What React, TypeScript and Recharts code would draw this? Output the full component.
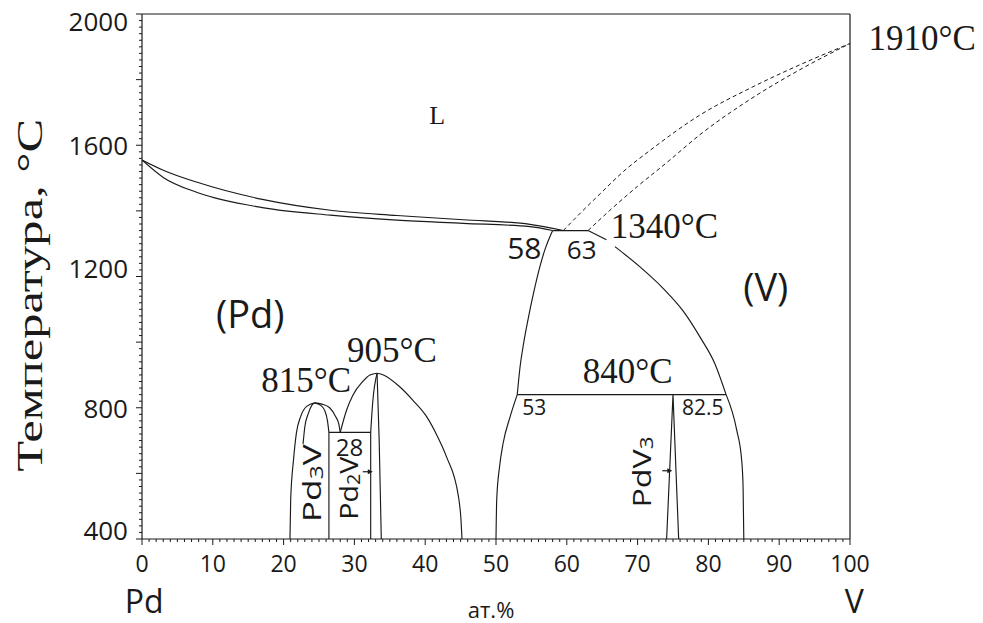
import React from 'react';
import { LineChart, Line, XAxis, YAxis, ReferenceDot } from 'recharts';

type Pt = { x: number; t: number };

// Invariant points of the Pd–V system (x in at.% V, t in °C)
const PD_MELT = 1555;
const V_MELT = 1910;
const PERITECTIC_T = 1340;
const PERITECTIC_LIQ = 59.5;
const PERITECTIC_PD = 58;
const PERITECTIC_V = 63;
const EUTECTOID_T = 840;
const EUTECTOID_PD = 53;
const EUTECTOID_V = 82.5;
const PDV3_X = 75;
const PD3V_MAX_X = 24.4;
const PD3V_MAX_T = 815;
const PD2V_MAX_X = 33.2;
const PD2V_MAX_T = 905;
const LOW_EUTECTOID_T = 725;
const LOW_EUTECTOID_X = 28;
const PD3V_EDGE = 26.4;
const PD2V_EDGE = 32.3;

// Liquidus / solidus of (Pd)
const liquidusPd: Pt[] = [
  { x: 0, t: PD_MELT }, { x: 3, t: 1524 }, { x: 7.8, t: 1487 }, { x: 17, t: 1435 },
  { x: 26.6, t: 1402 }, { x: 36, t: 1386 }, { x: 45.4, t: 1373 }, { x: 54.8, t: 1359 },
  { x: PERITECTIC_LIQ, t: PERITECTIC_T },
];
const solidusPd: Pt[] = [
  { x: 0, t: PD_MELT }, { x: 3, t: 1502 }, { x: 7.8, t: 1456 }, { x: 17, t: 1410 },
  { x: 26.6, t: 1387 }, { x: 36, t: 1372 }, { x: 45.4, t: 1362 }, { x: 54.8, t: 1352 },
  { x: PERITECTIC_PD, t: PERITECTIC_T },
];
const peritecticLine: Pt[] = [
  { x: PERITECTIC_PD, t: PERITECTIC_T }, { x: PERITECTIC_V, t: PERITECTIC_T },
];

// Estimated (dashed) liquidus / solidus of (V)
const liquidusV: Pt[] = [
  { x: PERITECTIC_LIQ, t: PERITECTIC_T }, { x: 62, t: 1395 }, { x: 64.7, t: 1452 },
  { x: 68, t: 1520 }, { x: 71.8, t: 1585 }, { x: 78.8, t: 1692 }, { x: 85.9, t: 1774 },
  { x: 92.9, t: 1845 }, { x: 100, t: V_MELT },
];
const solidusV: Pt[] = [
  { x: PERITECTIC_V, t: PERITECTIC_T }, { x: 66, t: 1400 }, { x: 70, t: 1475 },
  { x: 74, t: 1545 }, { x: 78.8, t: 1632 }, { x: 85.9, t: 1740 }, { x: 92.9, t: 1830 },
  { x: 100, t: V_MELT },
];

// (V) solvus
const solvusVTop: Pt[] = [{ x: PERITECTIC_V, t: PERITECTIC_T }, { x: 65.6, t: 1312 }];
const solvusVMid: Pt[] = [
  { x: 66.8, t: 1291 }, { x: 70.3, t: 1230 }, { x: 73.6, t: 1164 }, { x: 76.5, t: 1093 },
  { x: 78.8, t: 1016 }, { x: 80.9, t: 935 }, { x: EUTECTOID_V, t: EUTECTOID_T },
];
const solvusVLow: Pt[] = [
  { x: EUTECTOID_V, t: EUTECTOID_T }, { x: 84.0, t: 732 }, { x: 84.7, t: 640 },
  { x: 84.9, t: 558 }, { x: 85.0, t: 400 },
];

// (Pd) solvus on the V-rich side
const solvusPdHigh: Pt[] = [
  { x: EUTECTOID_PD, t: EUTECTOID_T }, { x: 53.4, t: 925 }, { x: 53.9, t: 996 },
  { x: 54.6, t: 1077 }, { x: 55.3, t: 1149 }, { x: 56.2, t: 1230 }, { x: 56.9, t: 1281 },
  { x: PERITECTIC_PD, t: PERITECTIC_T },
];
const solvusPdLow: Pt[] = [
  { x: 50, t: 400 }, { x: 50.1, t: 519 }, { x: 50.5, t: 620 }, { x: 51, t: 691 },
  { x: 52, t: 773 }, { x: EUTECTOID_PD, t: EUTECTOID_T },
];
const eutectoidLine: Pt[] = [
  { x: EUTECTOID_PD, t: EUTECTOID_T }, { x: EUTECTOID_V, t: EUTECTOID_T },
];
const pdv3Field: Pt[] = [
  { x: 74.1, t: 400 }, { x: PDV3_X, t: EUTECTOID_T }, { x: 75.8, t: 400 },
];

// Pd3V ordering dome
const pd3vOuterLeft: Pt[] = [
  { x: 20.9, t: 400 }, { x: 21.0, t: 519 }, { x: 21.4, t: 641 }, { x: 21.8, t: 722 },
  { x: 22.4, t: 773 }, { x: 23.3, t: 805 }, { x: PD3V_MAX_X, t: PD3V_MAX_T },
];
const pd3vOuterRight: Pt[] = [
  { x: PD3V_MAX_X, t: PD3V_MAX_T }, { x: 25.4, t: 811 }, { x: 26.5, t: 800 },
  { x: 27.3, t: 775 }, { x: 27.8, t: 750 }, { x: LOW_EUTECTOID_X, t: LOW_EUTECTOID_T },
];
const pd3vInnerLeft: Pt[] = [
  { x: 22.75, t: 690 }, { x: 23.0, t: 742 }, { x: 23.5, t: 783 }, { x: 24.0, t: 808 },
  { x: PD3V_MAX_X, t: PD3V_MAX_T },
];
const pd3vInnerRight: Pt[] = [
  { x: PD3V_MAX_X, t: PD3V_MAX_T }, { x: 25.2, t: 808 }, { x: 25.8, t: 792 },
  { x: 26.2, t: 760 }, { x: PD3V_EDGE, t: LOW_EUTECTOID_T },
];
const pd3vEdge: Pt[] = [{ x: PD3V_EDGE, t: 400 }, { x: PD3V_EDGE, t: LOW_EUTECTOID_T }];
const lowEutectoidLine: Pt[] = [
  { x: PD3V_EDGE, t: LOW_EUTECTOID_T }, { x: PD2V_EDGE, t: LOW_EUTECTOID_T },
];

// Pd2V ordering dome
const pd2vLeft: Pt[] = [
  { x: LOW_EUTECTOID_X, t: LOW_EUTECTOID_T }, { x: 28.9, t: 793 }, { x: 29.8, t: 839 },
  { x: 31.1, t: 878 }, { x: 32.2, t: 900 }, { x: PD2V_MAX_X, t: PD2V_MAX_T },
];
const pd2vInner: Pt[] = [
  { x: PD2V_EDGE, t: LOW_EUTECTOID_T }, { x: 32.6, t: 820 }, { x: PD2V_MAX_X, t: PD2V_MAX_T },
];
const pd2vEdge: Pt[] = [{ x: PD2V_EDGE, t: 400 }, { x: PD2V_EDGE, t: LOW_EUTECTOID_T }];
const pd2vRightEdge: Pt[] = [
  { x: PD2V_MAX_X, t: PD2V_MAX_T }, { x: 33.5, t: 700 }, { x: 33.8, t: 400 },
];
const pd2vOuterRight: Pt[] = [
  { x: PD2V_MAX_X, t: PD2V_MAX_T }, { x: 34.1, t: 900 }, { x: 36.4, t: 864 },
  { x: 38.3, t: 822 }, { x: 40.2, t: 773 }, { x: 41.7, t: 714 }, { x: 43, t: 651 },
  { x: 44.7, t: 529 }, { x: 45.05, t: 460 }, { x: 45.2, t: 400 },
];

type Curve = { pts: Pt[]; kind: 'monotone' | 'linear'; dashed?: boolean };
const curves: Curve[] = [
  { pts: liquidusPd, kind: 'monotone' },
  { pts: solidusPd, kind: 'monotone' },
  { pts: peritecticLine, kind: 'linear' },
  { pts: liquidusV, kind: 'monotone', dashed: true },
  { pts: solidusV, kind: 'monotone', dashed: true },
  { pts: solvusVTop, kind: 'linear' },
  { pts: solvusVMid, kind: 'monotone' },
  { pts: solvusVLow, kind: 'monotone' },
  { pts: solvusPdHigh, kind: 'monotone' },
  { pts: solvusPdLow, kind: 'monotone' },
  { pts: eutectoidLine, kind: 'linear' },
  { pts: pdv3Field, kind: 'linear' },
  { pts: pd3vOuterLeft, kind: 'monotone' },
  { pts: pd3vOuterRight, kind: 'monotone' },
  { pts: pd3vInnerLeft, kind: 'monotone' },
  { pts: pd3vInnerRight, kind: 'monotone' },
  { pts: pd3vEdge, kind: 'linear' },
  { pts: lowEutectoidLine, kind: 'linear' },
  { pts: pd2vLeft, kind: 'monotone' },
  { pts: pd2vInner, kind: 'monotone' },
  { pts: pd2vEdge, kind: 'linear' },
  { pts: pd2vRightEdge, kind: 'linear' },
  { pts: pd2vOuterRight, kind: 'monotone' },
];

// Axis ticks
const xTicks = Array.from({ length: 101 }, (_, i) => i);
const xMajorTicks = [0, 10, 20, 30, 40, 50, 60, 70, 80, 90, 100];
const yTicks = Array.from({ length: 81 }, (_, i) => 400 + i * 20);
const yMajorTicks = [400, 600, 800, 1000, 1200, 1400, 1600, 1800, 2000];
const yLabelTicks = [400, 800, 1200, 1600, 2000];
const yLabelNudge: Record<number, number> = { 2000: 7, 1200: -9, 400: -9 };

const INK = '#1a1a1a';
const SANS = '"Open Sans", "Noto Sans", sans-serif';
const SERIF = '"Liberation Serif", "Times New Roman", serif';

// Annotations anchored in data coordinates
const serifNotes = [
  { text: 'L', x: 41.7, t: 1690, size: 26 },
  { text: `${PD2V_MAX_T}°C`, x: 35.3, t: 976, size: 35 },
  { text: `${PD3V_MAX_T}°C`, x: 23.2, t: 884, size: 35 },
  { text: `${EUTECTOID_T}°C`, x: 68.6, t: 912, size: 35 },
  { text: `${PERITECTIC_T}°C`, x: 73.8, t: 1351, size: 35 },
  { text: `${V_MELT}°C`, x: 110.2, t: 1924, size: 35 },
];
const sansNotes = [
  { text: '(Pd)', x: 15.3, t: 1089, size: 38 },
  { text: '(V)', x: 88.1, t: 1171, size: 38 },
  { text: `${PERITECTIC_PD}`, x: 54, t: 1287, size: 30 },
  { text: `${PERITECTIC_V}`, x: 62.1, t: 1284, size: 26 },
  { text: `${EUTECTOID_PD}`, x: 55.4, t: 801, size: 21 },
  { text: `${EUTECTOID_V}`, x: 79.2, t: 801, size: 21 },
  { text: `${LOW_EUTECTOID_X}`, x: 29.3, t: 683, size: 24 },
  { text: 'Pd', x: 0.3, t: 212, size: 32 },
  { text: 'V', x: 100.6, t: 212, size: 32 },
  { text: 'ат.%', x: 49.3, t: 187, size: 22 },
];
// Rotated phase names: [main, subscript, tail]
const phaseNames = [
  { parts: ['Pd', '3', 'V'], x: 23.9, t: 570, len: 78 },
  { parts: ['Pd', '2', 'V'], x: 29.1, t: 555, len: 63 },
  { parts: ['PdV', '3', ''], x: 70.5, t: 604, len: 71 },
];
const arrows = [
  { x: 32.6, t: 605 },
  { x: 74.9, t: 608 },
];

function BottomTick(props: any) {
  const { x, y, payload } = props;
  const v = payload.value;
  const major = xMajorTicks.includes(v);
  return (
    <g>
      <line x1={x} x2={x} y1={y} y2={y + (major ? 6 : 3)} stroke={INK} strokeWidth={1} />
      {major && (
        <text x={x} y={y + 24} textAnchor="middle" dominantBaseline="central"
          fontFamily={SANS} fontSize={23} fill={INK}>{v}</text>
      )}
    </g>
  );
}

function TopTick(props: any) {
  const { x, y, payload } = props;
  const major = xMajorTicks.includes(payload.value);
  return <line x1={x} x2={x} y1={y} y2={y + (major ? 6 : 3)} stroke={INK} strokeWidth={1} />;
}

function LeftTick(props: any) {
  const { x, y, payload } = props;
  const v = payload.value;
  const major = yMajorTicks.includes(v);
  return (
    <g>
      <line x1={x} x2={x - (major ? 6 : 3)} y1={y} y2={y} stroke={INK} strokeWidth={1} />
      {yLabelTicks.includes(v) && (
        <text x={x - 14} y={y + (yLabelNudge[v] || 0)} textAnchor="end" dominantBaseline="central"
          fontFamily={SANS} fontSize={26} fill={INK}>{v}</text>
      )}
    </g>
  );
}

function RightTick(props: any) {
  const { x, y, payload } = props;
  const major = yMajorTicks.includes(payload.value);
  return <line x1={x} x2={x + (major ? 6 : 3)} y1={y} y2={y} stroke={INK} strokeWidth={1} />;
}

export default function App() {
  return (
    <div style={{ position: 'absolute', left: 0, top: 0, background: '#fff' }}>
      <LineChart
        width={983}
        height={623}
        margin={{ top: 13, right: 132, bottom: 83, left: 141 }}
      >
        <XAxis xAxisId={0} dataKey="x" type="number" domain={[0, 100]} allowDataOverflow
          ticks={xTicks} interval={0} tickSize={0} tickMargin={0} tickLine={false}
          tick={<BottomTick />} height={1} axisLine={{ stroke: INK, strokeWidth: 1.2 }} />
        <XAxis xAxisId="top" orientation="top" dataKey="x" type="number" domain={[0, 100]}
          ticks={xTicks} interval={0} tickSize={0} tickMargin={0} tickLine={false}
          tick={<TopTick />} height={1} axisLine={{ stroke: INK, strokeWidth: 1.2 }} />
        <YAxis yAxisId={0} type="number" domain={[400, 2000]} allowDataOverflow
          ticks={yTicks} interval={0} tickSize={0} tickMargin={0} tickLine={false}
          tick={<LeftTick />} width={1} axisLine={{ stroke: INK, strokeWidth: 1.2 }} />
        <YAxis yAxisId="right" orientation="right" type="number" domain={[400, 2000]}
          ticks={yTicks} interval={0} tickSize={0} tickMargin={0} tickLine={false}
          tick={<RightTick />} width={1} axisLine={{ stroke: INK, strokeWidth: 1.2 }} />

        {curves.map((c, i) => (
          <Line
            key={`curve-${i}`}
            data={c.pts}
            dataKey="t"
            type={c.kind}
            stroke={INK}
            strokeWidth={c.dashed ? 1 : 1.15}
            strokeDasharray={c.dashed ? '4 3' : undefined}
            dot={false}
            activeDot={false}
            isAnimationActive={false}
          />
        ))}

        {serifNotes.map((n, i) => (
          <ReferenceDot key={`serif-${i}`} x={n.x} y={n.t} r={0} ifOverflow="visible"
            shape={(p: any) => (
              <text x={p.cx} y={p.cy} textAnchor="middle" dominantBaseline="central"
                fontFamily={SERIF} fontSize={n.size} fill={INK}>{n.text}</text>
            )} />
        ))}
        {sansNotes.map((n, i) => (
          <ReferenceDot key={`sans-${i}`} x={n.x} y={n.t} r={0} ifOverflow="visible"
            shape={(p: any) => (
              <text x={p.cx} y={p.cy} textAnchor="middle" dominantBaseline="central"
                fontFamily={SANS} fontSize={n.size} fill={INK}>{n.text}</text>
            )} />
        ))}
        {phaseNames.map((n, i) => (
          <ReferenceDot key={`phase-${i}`} x={n.x} y={n.t} r={0} ifOverflow="visible"
            shape={(p: any) => (
              <text x={p.cx} y={p.cy} transform={`rotate(-90 ${p.cx} ${p.cy})`}
                textAnchor="middle" dominantBaseline="central" fontFamily={SANS}
                fontSize={26} fill={INK} textLength={n.len} lengthAdjust="spacingAndGlyphs">
                {n.parts[0]}
                <tspan fontSize={18} dy={5}>{n.parts[1]}</tspan>
                {n.parts[2] ? <tspan dy={-5}>{n.parts[2]}</tspan> : null}
              </text>
            )} />
        ))}
        {arrows.map((a, i) => (
          <ReferenceDot key={`arrow-${i}`} x={a.x} y={a.t} r={0} ifOverflow="visible"
            shape={(p: any) => (
              <g>
                <line x1={p.cx - 10} y1={p.cy} x2={p.cx - 3} y2={p.cy} stroke={INK} strokeWidth={1.2} />
                <polygon points={`${p.cx},${p.cy} ${p.cx - 5},${p.cy - 2.5} ${p.cx - 5},${p.cy + 2.5}`} fill={INK} />
              </g>
            )} />
        ))}
        <ReferenceDot x={-15.7} y={1143} r={0} ifOverflow="visible"
          shape={(p: any) => (
            <text x={p.cx} y={p.cy} transform={`rotate(-90 ${p.cx} ${p.cy})`}
              textAnchor="middle" dominantBaseline="central" fontFamily={SERIF}
              fontSize={35} fill={INK} textLength={353} lengthAdjust="spacingAndGlyphs">
              Температура, °C
            </text>
          )} />
      </LineChart>
    </div>
  );
}
